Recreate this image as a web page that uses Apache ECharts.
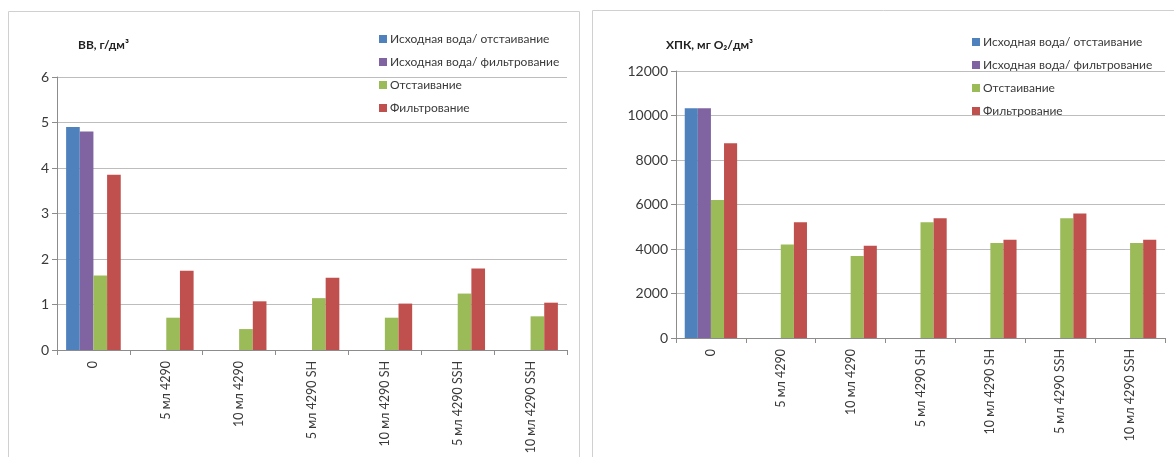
<!DOCTYPE html>
<html>
<head>
<meta charset="utf-8">
<script src="https://cdn.jsdelivr.net/npm/echarts@6/dist/echarts.min.js"></script>
<style>
  html, body { margin: 0; padding: 0; background: #fff; }
  #chart { width: 1174px; height: 457px; }
</style>
</head>
<body>
<div id="chart"></div>
<script>
// Sample categories (dose of reagent)
const categories = ['0', '5 мл 4290', '10 мл 4290', '5 мл 4290 SH', '10 мл 4290 SH', '5 мл 4290 SSH', '10 мл 4290 SSH'];
const seriesNames = ['Исходная вода/ отстаивание', 'Исходная вода/ фильтрование', 'Отстаивание', 'Фильтрование'];

// Suspended solids, g/dm3
const ssRawSettle  = [4.9, null, null, null, null, null, null];
const ssRawFilter  = [4.8, null, null, null, null, null, null];
const ssSettle     = [1.64, 0.71, 0.46, 1.14, 0.71, 1.24, 0.74];
const ssFilter     = [3.85, 1.74, 1.07, 1.59, 1.02, 1.79, 1.04];
const ssTicks      = { min: 0, max: 6, interval: 1 };

// COD, mg O2/dm3
const codRawSettle = [10330, null, null, null, null, null, null];
const codRawFilter = [10330, null, null, null, null, null, null];
const codSettle    = [6200, 4200, 3680, 5200, 4270, 5380, 4270];
const codFilter    = [8750, 5200, 4150, 5380, 4420, 5590, 4420];
const codTicks     = { min: 0, max: 12000, interval: 2000 };

const colors = ['#4F81BD', '#8064A2', '#9BBB59', '#C0504D'];
const FONT = 'Lato, "Open Sans", sans-serif';
const textColor = '#3a3a3a';
const gridColor = '#bdbdbd';
const axisColor = '#8c8c8c';

function xAxisFor(gridIndex) {
  return {
    type: 'category', gridIndex, data: categories,
    axisLine: { lineStyle: { color: axisColor } },
    axisTick: { show: true, interval: 0, length: 5, lineStyle: { color: axisColor } },
    axisLabel: { interval: 0, rotate: 90, fontFamily: FONT, fontSize: 12.5, color: textColor, margin: 11 },
    splitLine: { show: false }
  };
}
function yAxisFor(gridIndex, t) {
  return {
    type: 'value', gridIndex, min: t.min, max: t.max, interval: t.interval,
    axisLine: { show: true, lineStyle: { color: axisColor } },
    axisTick: { show: true, length: 5, lineStyle: { color: axisColor } },
    axisLabel: { fontFamily: FONT, fontSize: 14, color: textColor, margin: 8, formatter: v => String(v) },
    splitLine: { lineStyle: { color: gridColor, width: 1 } }
  };
}
function barsFor(idx, arrays) {
  return arrays.map((d, i) => ({
    name: seriesNames[i], type: 'bar', xAxisIndex: idx, yAxisIndex: idx,
    data: d, barGap: '0%', barCategoryGap: '25%',
    itemStyle: { color: colors[i] }
  }));
}
function legendFor(left, top) {
  return {
    orient: 'vertical', left, top, data: seriesNames,
    icon: 'rect', itemWidth: 8, itemHeight: 8, itemGap: 9,
    textStyle: { fontFamily: FONT, fontSize: 12, color: textColor, lineHeight: 14, padding: [0, 0, 0, -2] }
  };
}

const chart = echarts.init(document.getElementById('chart'), null, { renderer: 'canvas' });
chart.setOption({
  animation: false,
  color: colors,
  graphic: [
    { type: 'rect', shape: { x: 8.5, y: 11.5, width: 571, height: 460 }, style: { fill: 'none', stroke: '#d0d0d0', lineWidth: 1 } },
    { type: 'rect', shape: { x: 592.5, y: 10.5, width: 590, height: 460 }, style: { fill: 'none', stroke: '#d0d0d0', lineWidth: 1 } }
  ],
  title: [
    { text: 'ВВ, г/дм³', left: 73, top: 34, textStyle: { fontFamily: FONT, fontSize: 12, fontWeight: 'bold', color: '#222' } },
    { text: 'ХПК, мг O₂/дм³', left: 661, top: 34, textStyle: { fontFamily: FONT, fontSize: 12, fontWeight: 'bold', color: '#222' } }
  ],
  legend: [legendFor(374, 27), legendFor(967, 30)],
  grid: [
    { left: 57, top: 77, width: 510, height: 273, outerBoundsMode: 'none' },
    { left: 676, top: 71, width: 489, height: 267, outerBoundsMode: 'none' }
  ],
  xAxis: [xAxisFor(0), xAxisFor(1)],
  yAxis: [yAxisFor(0, ssTicks), yAxisFor(1, codTicks)],
  series: [
    ...barsFor(0, [ssRawSettle, ssRawFilter, ssSettle, ssFilter]),
    ...barsFor(1, [codRawSettle, codRawFilter, codSettle, codFilter])
  ]
});
</script>
</body>
</html>
